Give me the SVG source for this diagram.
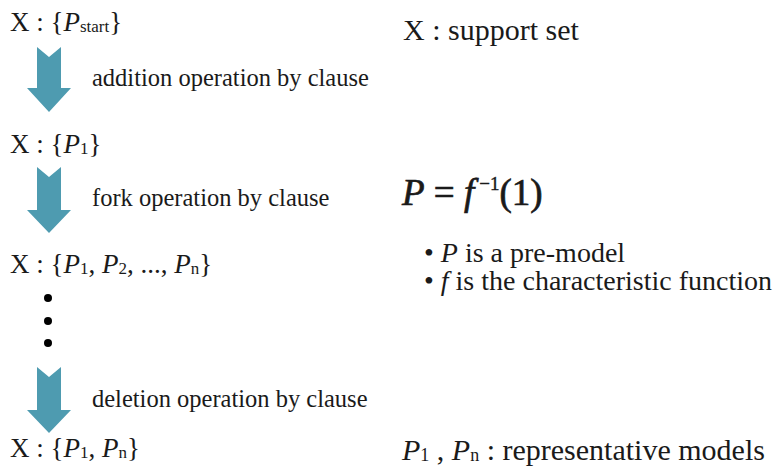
<svg xmlns="http://www.w3.org/2000/svg" width="776" height="474" viewBox="0 0 776 474">
<style>
text,tspan{font-family:"Liberation Serif","Times New Roman",serif}
text{fill:#1a1a1a;font-size:27px}
.op{font-size:24.5px}
.r{font-size:30px}
.b{font-size:28px}
.f{font-size:37px;stroke:#1a1a1a;stroke-width:0.7px}
.sup{font-size:19px;stroke-width:0.4px}
.i{font-style:italic}
.s{font-size:17px}
.s2{font-size:18px}
.arrow{fill:#4e9bb0}
</style>
<rect width="776" height="474" fill="#fff"/>
<g id="connectors">
<path class="arrow" d="M37,47 L49,57 L61,47 L61,88 L71,88 L49,112 L27,88 L37,88 Z"/>
<path class="arrow" d="M37,167 L49,177 L61,167 L61,210 L71,210 L49,233 L27,210 L37,210 Z"/>
<path class="arrow" d="M37,367 L49,377 L61,367 L61,410 L71,410 L49,433 L27,410 L37,410 Z"/>
</g>
<g id="state0"><text x="10" y="31">X : {<tspan class="i">P</tspan><tspan class="s" dy="1">start</tspan><tspan dy="-1">}</tspan></text></g>
<g id="op1"><text class="op" x="92" y="86">addition operation by clause</text></g>
<g id="state1"><text x="10" y="153">X : {<tspan class="i">P</tspan><tspan class="s" dy="1">1</tspan><tspan dy="-1">}</tspan></text></g>
<g id="op2"><text class="op" x="92" y="206">fork operation by clause</text></g>
<g id="state2"><text x="10" y="273">X : {<tspan class="i">P</tspan><tspan class="s" dy="1">1</tspan><tspan dy="-1">, </tspan><tspan class="i">P</tspan><tspan class="s" dy="1">2</tspan><tspan dy="-1">, ..., </tspan><tspan class="i">P</tspan><tspan class="s" dy="1">n</tspan><tspan dy="-1">}</tspan></text></g>
<g id="dots"><circle cx="48" cy="298" r="4" fill="#000"/><circle cx="48" cy="321" r="4" fill="#000"/><circle cx="48" cy="343" r="4" fill="#000"/></g>
<g id="op3"><text class="op" x="92" y="407">deletion operation by clause</text></g>
<g id="state3"><text x="10" y="457">X : {<tspan class="i">P</tspan><tspan class="s" dy="1">1</tspan><tspan dy="-1">, </tspan><tspan class="i">P</tspan><tspan class="s" dy="1">n</tspan><tspan dy="-1">}</tspan></text></g>
<g id="legend-x"><text class="r" x="403" y="40">X : support set</text></g>
<g id="formula"><text class="f" x="402" y="205"><tspan class="i">P</tspan> = <tspan class="i">f</tspan><tspan class="sup" dy="-15" dx="5">−1</tspan><tspan dy="15">(1)</tspan></text></g>
<g id="bullets"><text class="b" x="424" y="262">• <tspan class="i">P</tspan> is a pre-model</text><text class="b" x="424" y="290">• <tspan class="i">f</tspan> is the characteristic function</text></g>
<g id="legend-p"><text class="r" x="402" y="460"><tspan class="i">P</tspan><tspan class="s2" dy="1">1</tspan><tspan dy="-1"> , </tspan><tspan class="i">P</tspan><tspan class="s2" dy="1">n</tspan><tspan dy="-1"> : representative models</tspan></text></g>
</svg>
